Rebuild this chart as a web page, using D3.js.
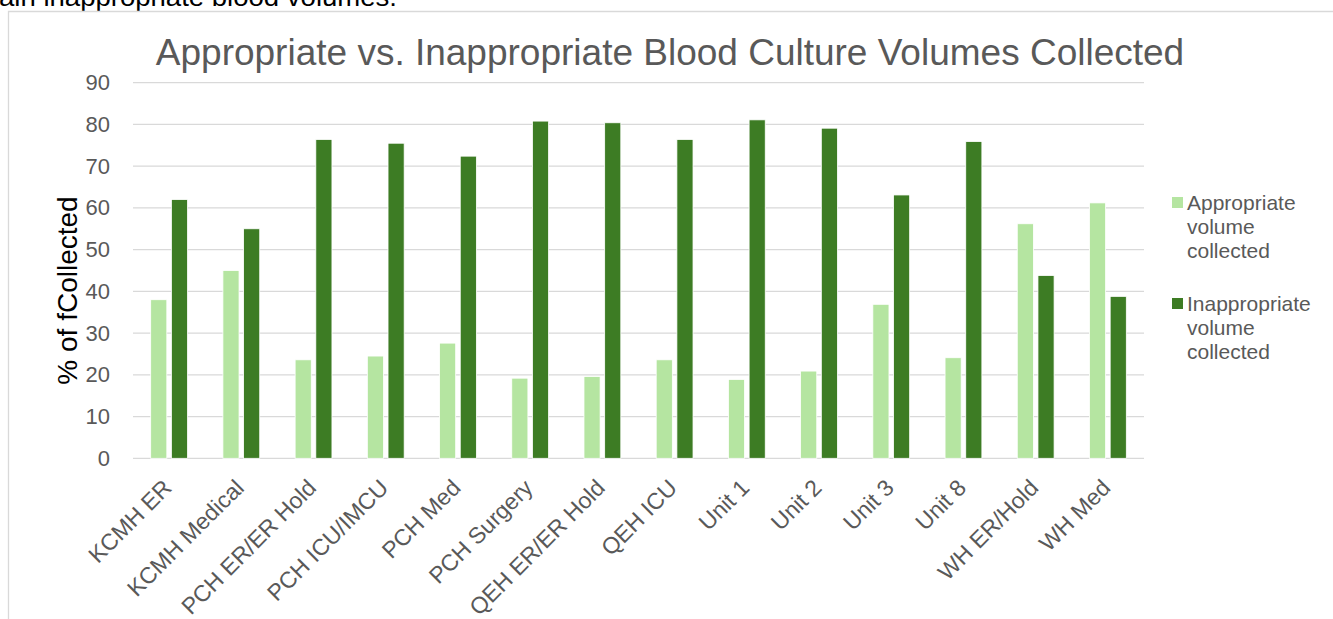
<!DOCTYPE html>
<html>
<head>
<meta charset="utf-8">
<script src="https://cdn.jsdelivr.net/npm/d3@7"></script>
<style>
  html, body { margin: 0; padding: 0; background: #fff; overflow: hidden; }
  text { font-family: "Liberation Sans", Arial, sans-serif; }
</style>
</head>
<body>
<div id="chart"></div>
<script>
const units = ["KCMH ER", "KCMH Medical", "PCH ER/ER Hold", "PCH ICU/IMCU", "PCH Med",
  "PCH Surgery", "QEH ER/ER Hold", "QEH ICU", "Unit 1", "Unit 2", "Unit 3", "Unit 8",
  "WH ER/Hold", "WH Med"];
const appropriate = [38, 45, 23.6, 24.5, 27.6, 19.2, 19.6, 23.6, 18.9, 20.9, 36.9, 24.1, 56.2, 61.2];
const inappropriate = [62, 55, 76.4, 75.5, 72.4, 80.8, 80.4, 76.4, 81.1, 79.1, 63.1, 75.9, 43.8, 38.8];
const seriesNames = ["Appropriate volume collected", "Inappropriate volume collected"];
const legendLines = [["Appropriate", "volume", "collected"], ["Inappropriate", "volume", "collected"]];
const yTicks = [0, 10, 20, 30, 40, 50, 60, 70, 80, 90];

const width = 1333, height = 619;
const colors = ["#b5e5a1", "#3d7c24"];
const margin = { left: 133, right: 189, top: 82.7, bottom: 160.7 };

const svg = d3.select("#chart").append("svg")
  .attr("width", width)
  .attr("height", height);

// clipped caption line above the chart box (cut off in the source too)
svg.append("text")
  .attr("x", -1).attr("y", 6)
  .attr("font-size", 26)
  .attr("textLength", 398)
  .attr("lengthAdjust", "spacingAndGlyphs")
  .attr("fill", "#000")
  .text("ain inappropriate blood volumes.");

// chart box border
svg.append("path")
  .attr("d", `M8.5,${height} V11.5 H${width}`)
  .attr("fill", "none")
  .attr("stroke", "#d9d9d9")
  .attr("stroke-width", 1.3);

const x0 = d3.scaleBand()
  .domain(units)
  .range([margin.left, width - margin.right])
  .paddingInner(0.49)
  .paddingOuter(0.245);

const x1 = d3.scaleBand()
  .domain([0, 1])
  .range([0, x0.bandwidth()])
  .paddingInner(0.22);

const y = d3.scaleLinear()
  .domain([0, 90])
  .range([height - margin.bottom, margin.top]);

// gridlines
svg.append("g")
  .selectAll("line")
  .data(yTicks)
  .enter().append("line")
  .attr("x1", margin.left)
  .attr("x2", width - margin.right)
  .attr("y1", d => y(d))
  .attr("y2", d => y(d))
  .attr("stroke", "#d9d9d9")
  .attr("stroke-width", 1.3);

// y axis labels
const yAxis = svg.append("g")
  .attr("transform", `translate(${margin.left - 23},0)`)
  .call(d3.axisLeft(y).tickValues(yTicks).tickSize(0).tickPadding(0));
yAxis.select(".domain").remove();
yAxis.selectAll("text")
  .attr("font-family", "'Liberation Sans', Arial, sans-serif")
  .attr("font-size", 22)
  .attr("fill", "#595959");

// bars
const groups = svg.append("g")
  .selectAll("g")
  .data(units)
  .enter().append("g")
  .attr("transform", d => `translate(${x0(d)},0)`);

groups.selectAll("rect")
  .data((d, i) => [appropriate[i], inappropriate[i]])
  .enter().append("rect")
  .attr("x", (d, j) => x1(j))
  .attr("width", x1.bandwidth())
  .attr("y", d => y(d))
  .attr("height", d => y(0) - y(d))
  .attr("fill", (d, j) => colors[j])
  .attr("stroke", "#fff")
  .attr("stroke-width", 0.8);

// x axis labels
svg.append("g")
  .selectAll("text")
  .data(units)
  .enter().append("text")
  .attr("transform", d => `translate(${x0(d) + x0.bandwidth() / 2 + 4},${y(0) + 31}) rotate(-45)`)
  .attr("text-anchor", "end")
  .attr("font-size", 23)
  .attr("fill", "#595959")
  .text(d => d);

// y axis title
svg.append("text")
  .attr("transform", `translate(77,${(y(0) + y(90)) / 2 + 20}) rotate(-90)`)
  .attr("text-anchor", "middle")
  .attr("font-size", 28)
  .attr("fill", "#000")
  .text("% of fCollected");

// chart title
svg.append("text")
  .attr("x", 670)
  .attr("y", 65)
  .attr("text-anchor", "middle")
  .attr("font-size", 37)
  .attr("fill", "#595959")
  .text("Appropriate vs. Inappropriate Blood Culture Volumes Collected");

// legend
const legend = svg.append("g")
  .selectAll("g")
  .data(seriesNames)
  .enter().append("g")
  .attr("transform", (d, i) => `translate(1172,${197 + i * 101})`);

legend.append("rect")
  .attr("width", 11)
  .attr("height", 11)
  .attr("fill", (d, i) => colors[i]);

legend.append("text")
  .attr("x", 15)
  .attr("y", 13)
  .attr("font-size", 21)
  .attr("fill", "#595959")
  .selectAll("tspan")
  .data((d, i) => legendLines[i])
  .enter().append("tspan")
  .attr("x", 15)
  .attr("dy", (d, k) => k === 0 ? 0 : 24)
  .text(d => d);
</script>
</body>
</html>
